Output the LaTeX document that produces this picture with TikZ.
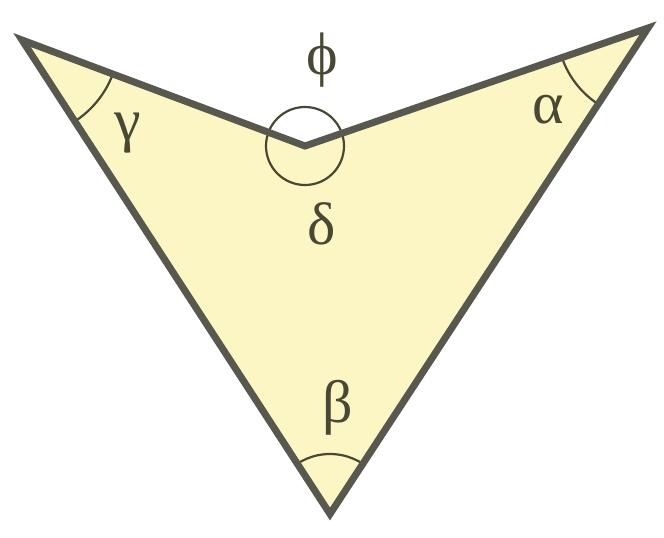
\documentclass[tikz,border=0pt]{standalone}
\usepackage{fontspec}
\newfontfamily\grk{Liberation Serif}
\definecolor{fillyel}{RGB}{252,246,196}
\definecolor{edgegray}{RGB}{88,88,78}
\definecolor{arcgray}{RGB}{72,72,52}
\begin{document}
\begin{tikzpicture}[x=1pt,y=-1pt,
  edge/.style={draw=edgegray,line width=7pt,line join=miter},
  anglearc/.style={draw=arcgray,line width=2.2pt},
  lbl/.style={text=arcgray,font=\grk\fontsize{60}{64}\selectfont,inner sep=0pt}]
\useasboundingbox (0,0) rectangle (664,538);
\coordinate (A) at (22,40);
\coordinate (D) at (305,146);
\coordinate (C) at (648,28);
\coordinate (B) at (330,514);
\fill[fillyel] (A) -- (D) -- (C) -- (B) -- cycle;
\begin{scope}
  \clip (A) -- (D) -- (C) -- (B) -- cycle;
  \draw[anglearc] (A) circle[radius=97];
  \draw[anglearc] (C) circle[radius=91];
  \draw[anglearc] (B) circle[radius=60];
\end{scope}
\draw[anglearc] (D) circle[radius=39];
\draw[edge] (A) -- (D) -- (C) -- (B) -- cycle;
\node[lbl] (gam) at (128,133) {γ};
\node[lbl] (phi) at (322,60) {ϕ};
\node[lbl] (alp) at (548,110) {α};
\node[lbl] (del) at (322,224) {δ};
\node[lbl] (bet) at (338,408) {β};
\end{tikzpicture}
\end{document}
